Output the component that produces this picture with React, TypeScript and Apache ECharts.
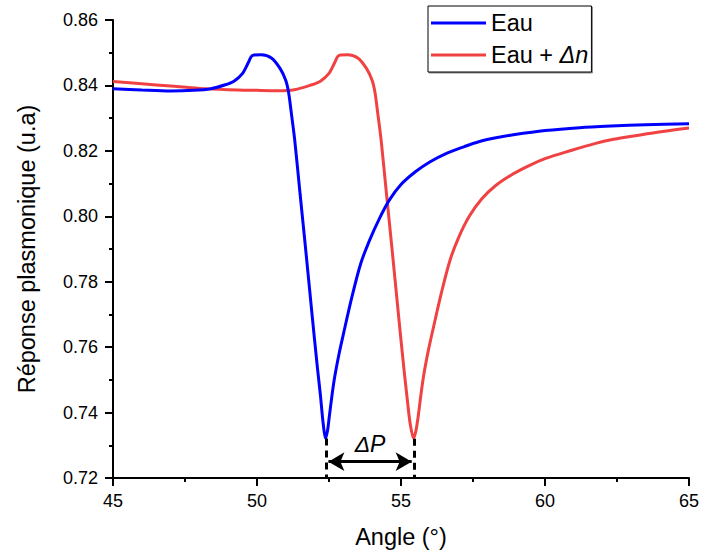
import React, { useEffect, useRef } from "react";
import * as echarts from "echarts";

const xTicks = [45, 50, 55, 60, 65];
const yTicksRange = { min: 0.72, max: 0.86, interval: 0.02 };

const eauX = [45, 46, 47, 47.8, 48.4, 48.9, 49.2, 49.5, 49.7, 49.8, 49.9, 50.15, 50.5, 50.8, 51.0, 51.1, 51.2, 51.31, 51.5, 51.7, 51.9, 52.1, 52.2, 52.3, 52.38, 52.45, 52.5, 52.6, 52.7, 52.85, 53.0, 53.3, 53.6, 53.9, 54.25, 54.6, 55.0, 55.5, 56.0, 56.6, 57.2, 57.7, 58.3, 58.9, 60.0, 61.2, 62.3, 63.5, 65];
const eauY = [0.839, 0.8386, 0.8383, 0.8385, 0.839, 0.8402, 0.8413, 0.8437, 0.847, 0.8488, 0.8493, 0.8494, 0.8484, 0.8452, 0.8415, 0.8377, 0.831, 0.8233, 0.8065, 0.789, 0.771, 0.7535, 0.7455, 0.7365, 0.7321, 0.7345, 0.738, 0.745, 0.751, 0.758, 0.764, 0.7755, 0.7855, 0.7925, 0.7993, 0.805, 0.8097, 0.8136, 0.8166, 0.8193, 0.8213, 0.8228, 0.824, 0.8249, 0.8262, 0.8271, 0.8276, 0.828, 0.8283];

const eauDnX = [45, 46, 47, 48, 49, 50, 50.7, 51.3, 51.9, 52.2, 52.5, 52.7, 52.8, 52.9, 53.15, 53.5, 53.8, 54.0, 54.1, 54.2, 54.31, 54.5, 54.7, 54.9, 55.1, 55.2, 55.32, 55.44, 55.52, 55.6, 55.7, 55.8, 55.95, 56.1, 56.4, 56.7, 57.0, 57.37, 57.8, 58.3, 58.9, 59.45, 60.0, 60.6, 61.2, 61.76, 62.3, 62.9, 63.9, 65];
const eauDnY = [0.8412, 0.8405, 0.8398, 0.8391, 0.8387, 0.8385, 0.8384, 0.8387, 0.8402, 0.8413, 0.8437, 0.847, 0.8488, 0.8493, 0.8494, 0.8484, 0.8452, 0.8415, 0.8377, 0.831, 0.8233, 0.8065, 0.789, 0.771, 0.7535, 0.7455, 0.7365, 0.7321, 0.7345, 0.739, 0.746, 0.752, 0.759, 0.765, 0.7765, 0.7865, 0.7935, 0.8, 0.8053, 0.8095, 0.813, 0.8155, 0.8176, 0.8193, 0.8209, 0.8223, 0.8234, 0.8243, 0.8257, 0.827];

const minEau = [52.4, 0.7321];
const minEauDn = [55.45, 0.732];
const arrowY = 0.725;

export default function App() {
  const ref = useRef<HTMLDivElement>(null);
  useEffect(() => {
    if (!ref.current) return;
    const chart = echarts.init(ref.current, undefined, { renderer: "svg" });
    const font = "'Liberation Sans', Arial, sans-serif";
    const axisCommon = {
      axisLine: { show: true, lineStyle: { color: "#000", width: 2 } },
      axisTick: { show: true, inside: false, length: 8, lineStyle: { color: "#000", width: 2 } },
      minorTick: { show: true, splitNumber: 2, length: 4, lineStyle: { color: "#000", width: 2 } },
      splitLine: { show: false },
      nameTextStyle: { fontSize: 23.5, color: "#000", fontFamily: font },
    };
    chart.setOption({
      animation: false,
      grid: { left: 113, top: 20, right: 12, bottom: 76 },
      legend: {
        orient: "vertical",
        left: 428,
        top: 6,
        padding: [5, 3, 5, 3],
        itemGap: 8,
        itemWidth: 55,
        itemHeight: 3,
        icon: "rect",
        borderColor: "#000",
        borderWidth: 1,
        backgroundColor: "#fff",
        shadowColor: "rgba(0,0,0,0.45)",
        shadowOffsetX: 1,
        shadowOffsetY: 1,
        shadowBlur: 1,
        textStyle: {
          fontSize: 23.5,
          color: "#000",
          fontFamily: font,
          rich: { i: { fontSize: 23.5, fontStyle: "italic", fontFamily: font, color: "#000" } },
        },
        formatter: (name: string) => (name === "Eau" ? "Eau" : "Eau + {i|Δn}"),
        data: ["Eau", "Eau + Δn"],
      },
      xAxis: {
        type: "value",
        min: xTicks[0],
        max: xTicks[xTicks.length - 1],
        interval: 5,
        name: "Angle (°)",
        nameLocation: "middle",
        nameGap: 47,
        ...axisCommon,
        axisLabel: { fontSize: 18, color: "#000", fontFamily: font, margin: 14 },
      },
      yAxis: {
        type: "value",
        min: yTicksRange.min,
        max: yTicksRange.max,
        interval: yTicksRange.interval,
        name: "Réponse plasmonique (u.a)",
        nameLocation: "middle",
        nameGap: 74,
        ...axisCommon,
        axisLabel: { fontSize: 18, color: "#000", fontFamily: font, margin: 15, formatter: (v: number) => v.toFixed(2) },
      },
      series: [
        {
          name: "Eau",
          type: "line",
          data: eauX.map((x, i) => [x, eauY[i]]),
          showSymbol: false,
          symbol: "none",
          smooth: 0.3,
          lineStyle: { color: "#0000ff", width: 3 },
          itemStyle: { color: "#0000ff" },
          z: 3,
          markLine: {
            silent: true,
            symbol: ["none", "none"],
            lineStyle: { color: "#000", width: 3, type: [7, 5] },
            label: { show: false },
            data: [
              [{ coord: [minEau[0], minEau[1]] }, { coord: [minEau[0], yTicksRange.min] }],
              [{ coord: [minEauDn[0], minEauDn[1]] }, { coord: [minEauDn[0], yTicksRange.min] }],
            ],
          },
        },
        {
          name: "Eau + Δn",
          type: "line",
          data: eauDnX.map((x, i) => [x, eauDnY[i]]),
          showSymbol: false,
          symbol: "none",
          smooth: 0.3,
          lineStyle: { color: "#f04242", width: 3 },
          itemStyle: { color: "#f04242" },
          z: 2,
          markLine: {
            silent: true,
            symbol: ["arrow", "arrow"],
            symbolSize: [14, 16],
            lineStyle: { color: "#000", width: 3, type: "solid" },
            label: {
              show: true,
              position: "middle",
              formatter: "ΔP",
              fontSize: 23,
              fontStyle: "italic",
              color: "#000",
              fontFamily: font,
              distance: 6,
            },
            data: [[{ coord: [minEau[0] + 0.08, arrowY] }, { coord: [minEauDn[0] - 0.08, arrowY] }]],
          },
        },
      ],
    });
    return () => chart.dispose();
  }, []);
  return <div ref={ref} style={{ position: "absolute", left: 0, top: 0, width: 702, height: 554 }} />;
}
